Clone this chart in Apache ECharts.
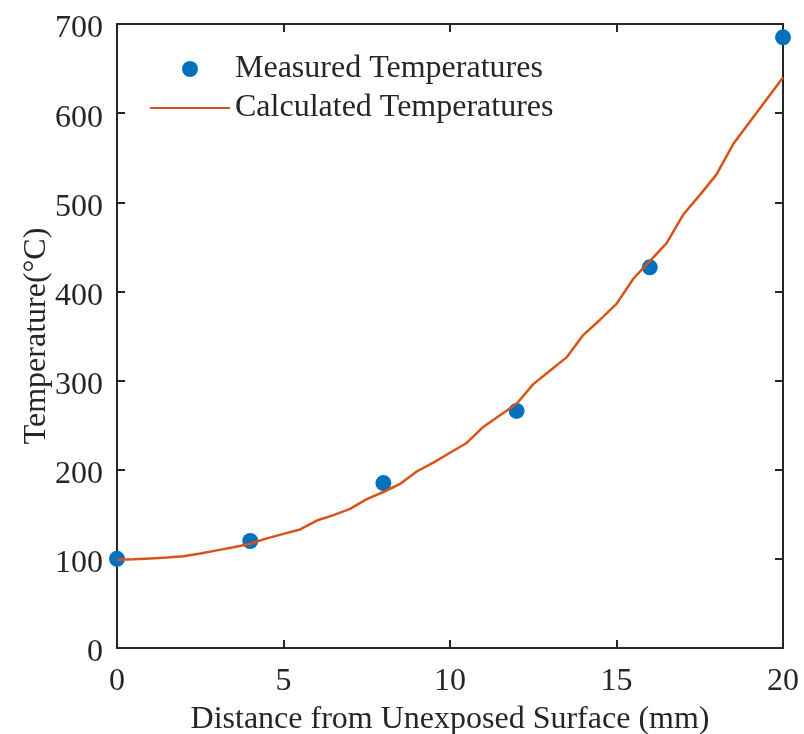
<!DOCTYPE html>
<html>
<head>
<meta charset="utf-8">
<script src="https://cdn.jsdelivr.net/npm/echarts@6/dist/echarts.min.js"></script>
<style>
  html, body { margin: 0; padding: 0; background: #fff; }
  #chart { width: 804px; height: 734px; }
</style>
</head>
<body>
<div id="chart"></div>
<script>
// measured points (distance mm, temperature C)
const measuredX = [0, 4, 8, 12, 16, 20];
const measuredY = [100, 120, 185, 266, 427, 685];

// calculated curve, sampled every 0.5 mm
const calcX = [0, 0.5, 1, 1.5, 2, 2.5, 3, 3.5, 4, 4.5, 5, 5.5, 6, 6.5, 7, 7.5, 8, 8.5, 9, 9.5, 10,
    10.5, 11, 11.5, 12, 12.5, 13, 13.5, 14, 14.5, 15, 15.5, 16, 16.5, 17, 17.5, 18, 18.5, 19, 19.5, 20];
const calcY = [99, 99.5, 100.5, 101.5, 103, 106, 109.5, 113, 117, 123, 128, 133, 143, 149, 156, 167, 175, 184, 198, 208, 219,
    230, 248, 261, 274, 296, 311, 326, 351, 368, 386, 414, 434, 454, 486, 508, 531, 565, 590, 615, 640];

const xTicks = [0, 5, 10, 15, 20];
const yTicks = [0, 100, 200, 300, 400, 500, 600, 700];

const axisColor = '#262626';
const font = 'Liberation Serif';
const fontSize = 32;

const myChart = echarts.init(document.getElementById('chart'));

const baseX = {
    type: 'value',
    min: xTicks[0],
    max: xTicks[xTicks.length - 1],
    interval: 5,
    splitLine: { show: false },
    axisLine: { onZero: false, lineStyle: { color: axisColor, width: 2 } },
    axisTick: { inside: true, length: 8, lineStyle: { color: axisColor, width: 2 } },
};
const baseY = {
    type: 'value',
    min: yTicks[0],
    max: yTicks[yTicks.length - 1],
    interval: 100,
    splitLine: { show: false },
    axisLine: { onZero: false, lineStyle: { color: axisColor, width: 2 } },
    axisTick: { inside: true, length: 8, lineStyle: { color: axisColor, width: 2 } },
};

const option = {
    animation: false,
    backgroundColor: '#fff',
    textStyle: { fontFamily: font },
    grid: { left: 117, right: 21, top: 24, bottom: 86, outerBoundsMode: 'none', containLabel: false },
    legend: {
        orient: 'vertical',
        left: 149,
        top: 53,
        padding: 0,
        itemWidth: 80,
        itemHeight: 16,
        itemGap: 7,
        textStyle: { fontFamily: font, fontSize: fontSize, color: axisColor },
        data: [
            { name: 'Measured Temperatures' },
            { name: 'Calculated Temperatures', itemStyle: { opacity: 0 } },
        ],
    },
    xAxis: [
        Object.assign({}, baseX, {
            position: 'bottom',
            name: 'Distance from Unexposed Surface (mm)',
            nameLocation: 'middle',
            nameGap: 56,
            nameMoveOverlap: false,
            nameTextStyle: { fontFamily: font, fontSize: fontSize, color: axisColor },
            axisLabel: { fontFamily: font, fontSize: fontSize, color: axisColor, margin: 18 },
        }),
        Object.assign({}, baseX, { position: 'top', axisLabel: { show: false } }),
    ],
    yAxis: [
        Object.assign({}, baseY, {
            position: 'left',
            name: 'Temperature(°C)',
            nameLocation: 'middle',
            nameGap: 64,
            nameMoveOverlap: false,
            nameTextStyle: { fontFamily: font, fontSize: fontSize, color: axisColor },
            axisLabel: {
                fontFamily: font, fontSize: fontSize, color: axisColor, margin: 14,
                formatter: '{v|{value}}',
                rich: {
                    v: { fontFamily: font, fontSize: fontSize, fontWeight: 'normal', color: axisColor, padding: [10, 0, 0, 0] },
                },
            },
        }),
        Object.assign({}, baseY, { position: 'right', axisLabel: { show: false } }),
    ],
    series: [
        {
            name: 'Measured Temperatures',
            type: 'scatter',
            symbol: 'circle',
            symbolSize: 16,
            itemStyle: { color: '#0072BD', opacity: 1 },
            z: 3,
            data: measuredX.map((x, i) => [x, measuredY[i]]),
        },
        {
            name: 'Calculated Temperatures',
            type: 'line',
            symbol: 'none',
            lineStyle: { color: '#D95319', width: 2.5 },
            itemStyle: { color: '#D95319' },
            z: 4,
            data: calcX.map((x, i) => [x, calcY[i]]),
        },
    ],
};

myChart.setOption(option);
</script>
</body>
</html>
